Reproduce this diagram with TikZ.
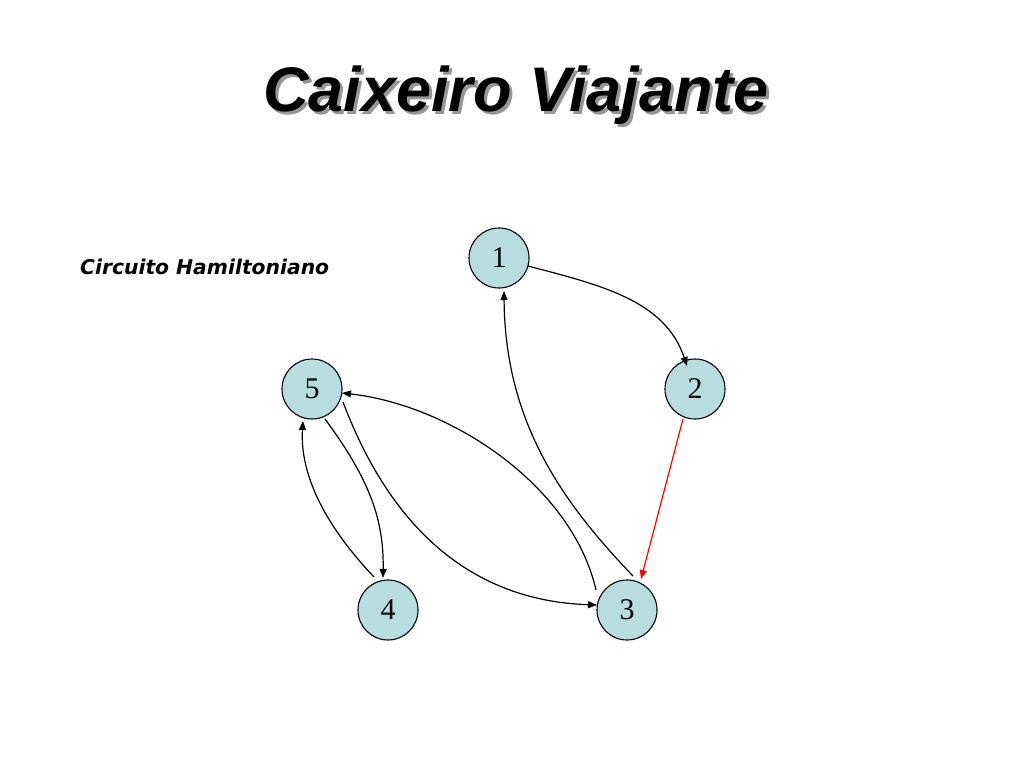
\documentclass[tikz,border=0pt]{standalone}
\usepackage{fontspec}
\setmainfont{Liberation Serif}
\newfontfamily\titlefont{Liberation Sans}
\newfontfamily\subfont{DejaVu Sans}
\usetikzlibrary{arrows.meta}
\definecolor{nodefill}{RGB}{184,221,225}
\definecolor{shadowgray}{RGB}{150,150,150}
\begin{document}
\begin{tikzpicture}[x=1pt,y=-1pt,
  vertex/.style={circle,draw=black,line width=1.1pt,fill=nodefill,minimum size=60pt,inner sep=0pt,font=\fontsize{30}{30}\selectfont},
  edge/.style={line width=1.2pt,-{Triangle[length=9pt,width=7pt]}},
  rededge/.style={edge,draw=red,-{Triangle[length=9pt,width=7pt,fill=red]}}]
\useasboundingbox (0,0) rectangle (1024,768);
\fill[white] (0,0) rectangle (1024,768);
% title with shadow
\node[anchor=base,font=\titlefont\bfseries\itshape\fontsize{63}{63}\selectfont] (title) at (516,111)
  {\rlap{\hspace{3pt}\raisebox{-3pt}{\textcolor{shadowgray}{Caixeiro Viajante}}}Caixeiro Viajante};
\node[anchor=base west,inner sep=0pt,font=\subfont\bfseries\itshape\fontsize{20.3}{20.3}\selectfont] (sub) at (80,274) {Circuito Hamiltoniano};
% vertices
\node[vertex] (n1) at (499,258) {1};
\node[vertex] (n2) at (695,389) {2};
\node[vertex] (n5) at (312,389) {5};
\node[vertex] (n4) at (388,610) {4};
\node[vertex] (n3) at (627,610) {3};
% points near the borders
\coordinate (a12) at (528,266);
\coordinate (b12) at (687,366);
\coordinate (a23) at (683,419);
\coordinate (b23) at (641,579);
\coordinate (a31) at (633,576);
\coordinate (b31) at (504,291);
\coordinate (a35) at (596,590);
\coordinate (b35) at (342,393);
\coordinate (a53) at (343,402);
\coordinate (b53) at (597,605);
\coordinate (a54) at (325,419);
\coordinate (b54) at (383,578);
\coordinate (a45) at (374,577);
\coordinate (b45) at (303,421);
% edges
\draw[edge] (a12) .. controls (600,285) and (665,300) .. (b12);
\draw[rededge] (a23) -- (b23);
\draw[edge] (a31) .. controls (560,500) and (505,420) .. (b31);
\draw[edge] (a35) .. controls (572,485) and (450,405) .. (b35);
\draw[edge] (a53) .. controls (380,500) and (450,600) .. (b53);
\draw[edge] (a54) .. controls (370,480) and (384,520) .. (b54);
\draw[edge] (a45) .. controls (320,520) and (300,470) .. (b45);
\end{tikzpicture}
\end{document}
